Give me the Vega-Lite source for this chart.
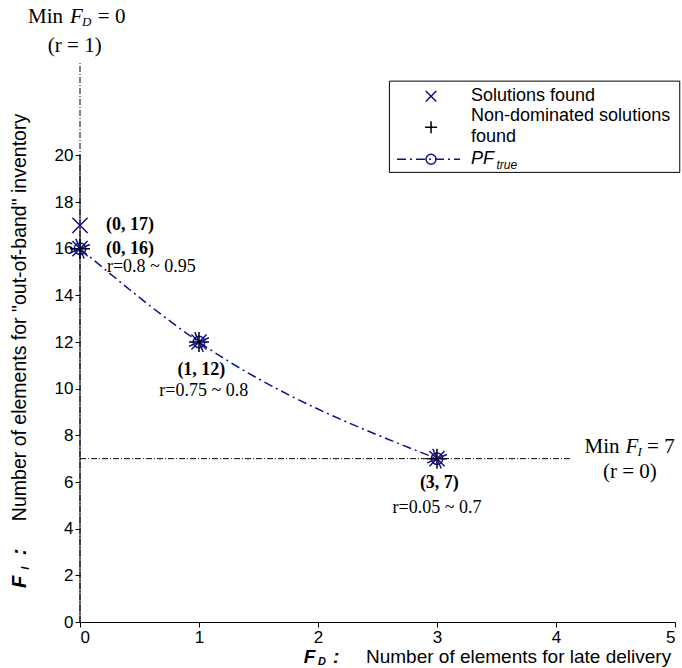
{
  "$schema": "https://vega.github.io/schema/vega-lite/v6.json",
  "width": 595,
  "height": 560,
  "autosize": {"type": "none"},
  "padding": {"left": 80, "top": 62, "right": 7, "bottom": 46},
  "background": "white",
  "config": {
    "view": {"stroke": null},
    "axis": {"grid": false, "labelFont": "Liberation Sans", "labelFontSize": 17, "labelColor": "#000", "tickColor": "#000", "domainColor": "#000", "tickSize": 5, "title": null, "format": "d"}
  },
  "datasets": {
    "sol": [{"x": 0, "y": 17}, {"x": 0, "y": 16}, {"x": 1, "y": 12}, {"x": 3, "y": 7}],
    "front": [{"x": 0, "y": 16}, {"x": 1, "y": 12}, {"x": 3, "y": 7}],
    "vline": [{"x": 0, "y": 0, "y2": 24}],
    "axisline": [{"x": 0, "y": 0, "y2": 20}],
    "hline": [{"x": 0, "x2": 4.13, "y": 7}],
    "box": [{"x": 2.6, "x2": 5.04, "y": 23.18, "y2": 19.27}],
    "ptlab": [
      {"x": 0.42, "y": 17.0, "t": "(0, 17)"},
      {"x": 0.42, "y": 16.0, "t": "(0, 16)"},
      {"x": 1.02, "y": 10.8, "t": "(1, 12)"},
      {"x": 3.02, "y": 5.97, "t": "(3, 7)"}
    ],
    "rlab": [
      {"x": 0.6, "y": 15.22, "t": "r=0.8 ~ 0.95"},
      {"x": 1.04, "y": 9.9, "t": "r=0.75 ~ 0.8"},
      {"x": 3.0, "y": 4.9, "t": "r=0.05 ~ 0.7"}
    ],
    "minreg": [
      {"x": -0.437, "y": 25.92, "t": "Min"},
      {"x": 0.15, "y": 25.92, "t": "= 0"},
      {"x": -0.27, "y": 24.68, "t": "(r = 1)"},
      {"x": 4.24, "y": 7.52, "t": "Min"},
      {"x": 4.765, "y": 7.52, "t": "= 7"},
      {"x": 4.395, "y": 6.42, "t": "(r = 0)"}
    ],
    "minit": [
      {"x": -0.084, "y": 25.92, "t": "F"},
      {"x": 4.585, "y": 7.52, "t": "F"}
    ],
    "minsub": [
      {"x": 0.017, "y": 25.7, "t": "D"},
      {"x": 4.685, "y": 7.3, "t": "I"}
    ],
    "xtitle": [{"x": 2.403, "y": -1.5, "t": "Number of elements for late delivery"}],
    "xtitleF": [{"x": 1.88, "y": -1.5, "t": "F"}, {"x": 2.126, "y": -1.5, "t": ":"}],
    "xtitleSub": [{"x": 2.0, "y": -1.7, "t": "D"}],
    "ytitle": [{"x": -0.504, "y": 13.05, "t": "Number of elements for \"out-of-band\" inventory"}],
    "ytitleF": [{"x": -0.504, "y": 1.72, "t": "F"}, {"x": -0.504, "y": 3.0, "t": ":"}],
    "ytitleSub": [{"x": -0.454, "y": 2.3, "t": "I"}],
    "legX": [{"x": 2.95, "y": 22.53}],
    "legPlus": [{"x": 2.95, "y": 21.2}],
    "legLine": [{"x": 2.664, "y": 19.83}, {"x": 3.193, "y": 19.83}],
    "legCircle": [{"x": 2.95, "y": 19.83}],
    "legText": [
      {"x": 3.286, "y": 22.53, "t": "Solutions found"},
      {"x": 3.286, "y": 21.67, "t": "Non-dominated solutions"},
      {"x": 3.286, "y": 20.77, "t": "found"}
    ],
    "legPF": [{"x": 3.286, "y": 19.83, "t": "PF"}],
    "legPFsub": [{"x": 3.5, "y": 19.6, "t": "true"}]
  },
  "layer": [
    {
      "data": {"name": "vline"},
      "mark": {"type": "rule", "color": "#000", "strokeWidth": 1, "strokeDash": [6, 2, 1, 2]},
      "encoding": {
        "x": {"field": "x", "type": "quantitative", "scale": {"domain": [0, 5], "nice": false, "zero": false}, "axis": {"values": [0, 1, 2, 3, 4, 5], "labelPadding": 2}},
        "y": {"field": "y", "type": "quantitative", "scale": {"domain": [0, 24], "nice": false, "zero": false}, "axis": {"values": [0, 2, 4, 6, 8, 10, 12, 14, 16, 18, 20], "domain": false, "labelPadding": 2}},
        "y2": {"field": "y2"}
      }
    },
    {
      "data": {"name": "axisline"},
      "mark": {"type": "rule", "color": "#000", "strokeWidth": 1},
      "encoding": {"x": {"field": "x", "type": "quantitative"}, "y": {"field": "y", "type": "quantitative"}, "y2": {"field": "y2"}}
    },
    {
      "data": {"name": "hline"},
      "mark": {"type": "rule", "color": "#000", "strokeWidth": 1, "strokeDash": [6, 2, 1, 2]},
      "encoding": {"x": {"field": "x", "type": "quantitative"}, "x2": {"field": "x2"}, "y": {"field": "y", "type": "quantitative"}}
    },
    {
      "data": {"name": "front"},
      "mark": {"type": "line", "interpolate": "monotone", "color": "#10108f", "strokeWidth": 1.5, "strokeDash": [9, 4, 2, 4]},
      "encoding": {"x": {"field": "x", "type": "quantitative"}, "y": {"field": "y", "type": "quantitative"}}
    },
    {
      "data": {"name": "front"},
      "mark": {"type": "point", "shape": "circle", "filled": false, "size": 133, "stroke": "#10108f", "strokeWidth": 1.5, "opacity": 1},
      "encoding": {"x": {"field": "x", "type": "quantitative"}, "y": {"field": "y", "type": "quantitative"}}
    },
    {
      "data": {"name": "sol"},
      "mark": {"type": "point", "shape": "M-1,-1L1,1M-1,1L1,-1", "filled": false, "size": 230, "stroke": "#10108f", "strokeWidth": 1.5, "opacity": 1},
      "encoding": {"x": {"field": "x", "type": "quantitative"}, "y": {"field": "y", "type": "quantitative"}}
    },
    {
      "data": {"name": "front"},
      "mark": {"type": "point", "shape": "M-1,-1L1,1M-1,1L1,-1", "angle": 22, "filled": false, "size": 230, "stroke": "#10108f", "strokeWidth": 1.5, "opacity": 1},
      "encoding": {"x": {"field": "x", "type": "quantitative"}, "y": {"field": "y", "type": "quantitative"}}
    },
    {
      "data": {"name": "front"},
      "mark": {"type": "point", "shape": "M-1,0L1,0M0,-1L0,1", "filled": false, "size": 400, "stroke": "#000", "strokeWidth": 1.5, "opacity": 1},
      "encoding": {"x": {"field": "x", "type": "quantitative"}, "y": {"field": "y", "type": "quantitative"}}
    },
    {
      "data": {"name": "ptlab"},
      "mark": {"type": "text", "font": "Liberation Serif", "fontSize": 18, "fontWeight": "bold", "align": "center", "baseline": "middle", "color": "#000"},
      "encoding": {"x": {"field": "x", "type": "quantitative"}, "y": {"field": "y", "type": "quantitative"}, "text": {"field": "t"}}
    },
    {
      "data": {"name": "rlab"},
      "mark": {"type": "text", "font": "Liberation Serif", "fontSize": 18, "align": "center", "baseline": "middle", "color": "#000"},
      "encoding": {"x": {"field": "x", "type": "quantitative"}, "y": {"field": "y", "type": "quantitative"}, "text": {"field": "t"}}
    },
    {
      "data": {"name": "minreg"},
      "mark": {"type": "text", "font": "Liberation Serif", "fontSize": 21, "align": "left", "baseline": "middle", "color": "#000"},
      "encoding": {"x": {"field": "x", "type": "quantitative"}, "y": {"field": "y", "type": "quantitative"}, "text": {"field": "t"}}
    },
    {
      "data": {"name": "minit"},
      "mark": {"type": "text", "font": "Liberation Serif", "fontSize": 21, "fontStyle": "italic", "align": "left", "baseline": "middle", "color": "#000"},
      "encoding": {"x": {"field": "x", "type": "quantitative"}, "y": {"field": "y", "type": "quantitative"}, "text": {"field": "t"}}
    },
    {
      "data": {"name": "minsub"},
      "mark": {"type": "text", "font": "Liberation Serif", "fontSize": 13, "fontStyle": "italic", "align": "left", "baseline": "middle", "color": "#000"},
      "encoding": {"x": {"field": "x", "type": "quantitative"}, "y": {"field": "y", "type": "quantitative"}, "text": {"field": "t"}}
    },
    {
      "data": {"name": "xtitle"},
      "mark": {"type": "text", "font": "Liberation Sans", "fontSize": 19, "align": "left", "baseline": "middle", "color": "#000"},
      "encoding": {"x": {"field": "x", "type": "quantitative"}, "y": {"field": "y", "type": "quantitative"}, "text": {"field": "t"}}
    },
    {
      "data": {"name": "xtitleF"},
      "mark": {"type": "text", "font": "Liberation Sans", "fontSize": 19, "fontWeight": "bold", "fontStyle": "italic", "align": "left", "baseline": "middle", "color": "#000"},
      "encoding": {"x": {"field": "x", "type": "quantitative"}, "y": {"field": "y", "type": "quantitative"}, "text": {"field": "t"}}
    },
    {
      "data": {"name": "xtitleSub"},
      "mark": {"type": "text", "font": "Liberation Sans", "fontSize": 11, "fontWeight": "bold", "fontStyle": "italic", "align": "left", "baseline": "middle", "color": "#000"},
      "encoding": {"x": {"field": "x", "type": "quantitative"}, "y": {"field": "y", "type": "quantitative"}, "text": {"field": "t"}}
    },
    {
      "data": {"name": "ytitle"},
      "mark": {"type": "text", "font": "Liberation Sans", "fontSize": 19.5, "angle": 270, "align": "center", "baseline": "middle", "color": "#000"},
      "encoding": {"x": {"field": "x", "type": "quantitative"}, "y": {"field": "y", "type": "quantitative"}, "text": {"field": "t"}}
    },
    {
      "data": {"name": "ytitleF"},
      "mark": {"type": "text", "font": "Liberation Sans", "fontSize": 20, "fontWeight": "bold", "fontStyle": "italic", "angle": 270, "align": "center", "baseline": "middle", "color": "#000"},
      "encoding": {"x": {"field": "x", "type": "quantitative"}, "y": {"field": "y", "type": "quantitative"}, "text": {"field": "t"}}
    },
    {
      "data": {"name": "ytitleSub"},
      "mark": {"type": "text", "font": "Liberation Sans", "fontSize": 11, "fontWeight": "bold", "fontStyle": "italic", "angle": 270, "align": "center", "baseline": "middle", "color": "#000"},
      "encoding": {"x": {"field": "x", "type": "quantitative"}, "y": {"field": "y", "type": "quantitative"}, "text": {"field": "t"}}
    },
    {
      "data": {"name": "box"},
      "mark": {"type": "rect", "fill": "white", "stroke": "#000", "strokeWidth": 1},
      "encoding": {"x": {"field": "x", "type": "quantitative"}, "x2": {"field": "x2"}, "y": {"field": "y", "type": "quantitative"}, "y2": {"field": "y2"}}
    },
    {
      "data": {"name": "legX"},
      "mark": {"type": "point", "shape": "M-1,-1L1,1M-1,1L1,-1", "filled": false, "size": 110, "stroke": "#10108f", "strokeWidth": 1.5, "opacity": 1},
      "encoding": {"x": {"field": "x", "type": "quantitative"}, "y": {"field": "y", "type": "quantitative"}}
    },
    {
      "data": {"name": "legPlus"},
      "mark": {"type": "point", "shape": "M-1,0L1,0M0,-1L0,1", "filled": false, "size": 144, "stroke": "#000", "strokeWidth": 1.5, "opacity": 1},
      "encoding": {"x": {"field": "x", "type": "quantitative"}, "y": {"field": "y", "type": "quantitative"}}
    },
    {
      "data": {"name": "legLine"},
      "mark": {"type": "line", "color": "#10108f", "strokeWidth": 1.5, "strokeDash": [9, 4, 2, 4]},
      "encoding": {"x": {"field": "x", "type": "quantitative"}, "y": {"field": "y", "type": "quantitative"}}
    },
    {
      "data": {"name": "legCircle"},
      "mark": {"type": "point", "shape": "circle", "filled": false, "size": 100, "stroke": "#10108f", "strokeWidth": 1.5, "opacity": 1},
      "encoding": {"x": {"field": "x", "type": "quantitative"}, "y": {"field": "y", "type": "quantitative"}}
    },
    {
      "data": {"name": "legText"},
      "mark": {"type": "text", "font": "Liberation Sans", "fontSize": 18, "align": "left", "baseline": "middle", "color": "#000"},
      "encoding": {"x": {"field": "x", "type": "quantitative"}, "y": {"field": "y", "type": "quantitative"}, "text": {"field": "t"}}
    },
    {
      "data": {"name": "legPF"},
      "mark": {"type": "text", "font": "Liberation Sans", "fontSize": 18, "fontStyle": "italic", "align": "left", "baseline": "middle", "color": "#000"},
      "encoding": {"x": {"field": "x", "type": "quantitative"}, "y": {"field": "y", "type": "quantitative"}, "text": {"field": "t"}}
    },
    {
      "data": {"name": "legPFsub"},
      "mark": {"type": "text", "font": "Liberation Sans", "fontSize": 12, "fontStyle": "italic", "align": "left", "baseline": "middle", "color": "#000"},
      "encoding": {"x": {"field": "x", "type": "quantitative"}, "y": {"field": "y", "type": "quantitative"}, "text": {"field": "t"}}
    }
  ]
}
